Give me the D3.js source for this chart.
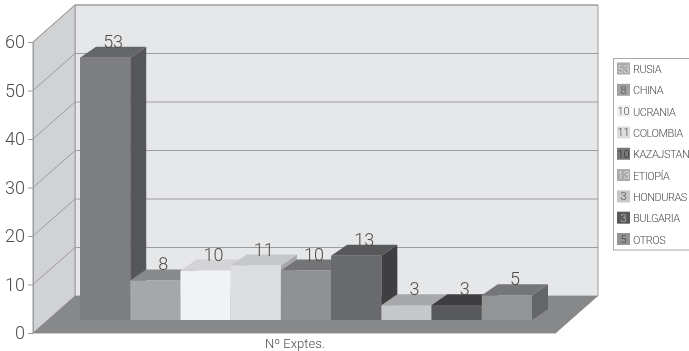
<!DOCTYPE html>
<html>
<head>
<meta charset="utf-8">
<script src="https://cdn.jsdelivr.net/npm/d3@7"></script>
<style>
html,body{margin:0;padding:0;background:#fff;overflow:hidden}
svg{display:block}
text{font-family:Roboto,"Liberation Sans",Arial,sans-serif;font-weight:300;fill:#4d4e50;filter:grayscale(1)}
</style>
</head>
<body>
<svg id="chart" width="689" height="351"></svg>
<script>
const categories = ["RUSIA","CHINA","UCRANIA","COLOMBIA","KAZAJSTAN","ETIOPÍA","HONDURAS","BULGARIA","OTROS"];
const values = [53,8,10,11,10,13,3,3,5];
const frontColors = ["#7d7e80","#a6a7a9","#f1f2f4","#dcdddf","#8f9092","#696a6c","#c6c7c9","#58595b","#939496"];
const topColors = ["#646567","#88898b","#d3d4d6","#c6c7c9","#737476","#58595b","#a7a8aa","#3d3d3f","#757678"];
const sideColors = ["#565759","#707173","#b5b6b8","#a6a7a9","#606163","#3f3f41","#8f9092","#2f2f31","#646567"];
const swatchColors = ["#a9aaac","#a0a1a3","#f1f2f4","#dcdddf","#77787a","#a9aaac","#c6c7c9","#58595b","#939496"];
const swatchInk = ["#dcdddf","#4d4e50","#4d4e50","#4d4e50","#2f2f31","#e6e7e9","#4d4e50","#c6c7c9","#3f3f41"];
const yTicks = [0,10,20,30,40,50,60];
const axisTitle = "Nº Exptes.";

const svg = d3.select("#chart");

// Box projection: front edge of the floor, and the offset to the back wall
const frontX = 33, backX = 75, rightBack = 598;
const depthX = backX - frontX, depthY = -37;
const y = d3.scaleLinear().domain([0,60]).range([333,42]);
const backY = v => y(v) + depthY;

// Bars stand part-way into the floor and use their own vertical scale
const band = d3.scaleBand().domain(categories).range([80,532]);
const barY = d3.scaleLinear().domain([0,60]).range([320,23]);
const barDX = 16, barDY = -11;

const poly = pts => pts.map(p => p.join(",")).join(" ");
const wallStroke = "#9b9c9e";

// Back wall, side wall, floor
svg.append("polygon")
  .attr("points", poly([[backX,backY(60)],[rightBack,backY(60)],[rightBack,backY(0)],[backX,backY(0)]]))
  .attr("fill","#e6e7e9").attr("stroke",wallStroke).attr("stroke-width",1);
svg.append("polygon")
  .attr("points", poly([[frontX,y(60)],[backX,backY(60)],[backX,backY(0)],[frontX,y(0)]]))
  .attr("fill","#d1d2d4").attr("stroke",wallStroke).attr("stroke-width",1);

// Gridlines run along the side wall and across the back wall
const grid = svg.append("g").attr("fill","none").attr("stroke",wallStroke).attr("stroke-width",1);
yTicks.filter(t => t > 0).forEach(t => {
  grid.append("polyline").attr("points", poly([[frontX,y(t)],[backX,backY(t)],[rightBack,backY(t)]]));
});

svg.append("polygon")
  .attr("points", poly([[frontX,y(0)],[backX,backY(0)],[rightBack,backY(0)],[rightBack-depthX,y(0)]]))
  .attr("fill","#87888a");
svg.append("line").attr("x1",frontX).attr("x2",rightBack-depthX).attr("y1",y(0)+.5).attr("y2",y(0)+.5)
  .attr("stroke","#c9cacc");

// Value axis
const axis = d3.axisLeft(y).tickValues(yTicks).tickSize(5).tickPadding(3).tickFormat(d3.format("d"));
const axisG = svg.append("g").attr("transform",`translate(${frontX},0)`).call(axis);
axisG.select(".domain").attr("stroke",wallStroke);
axisG.selectAll(".tick line").attr("stroke",wallStroke);
axisG.selectAll(".tick text").attr("font-size",18)
  .style("font-family",'Roboto,"Liberation Sans",Arial,sans-serif');

// Bars, painted left to right so each one overlaps its neighbour's side face
const bars = svg.append("g").selectAll("g").data(categories).join("g");
bars.append("polygon").attr("fill",(d,i)=>sideColors[i])
  .attr("points",(d,i)=>{
    const r = band(d)+band.bandwidth(), t = barY(values[i]), b = barY(0);
    return poly([[r,t],[r+barDX,t+barDY],[r+barDX,b+barDY],[r,b]]);
  });
bars.append("polygon").attr("fill",(d,i)=>topColors[i])
  .attr("points",(d,i)=>{
    const l = band(d), r = l+band.bandwidth(), t = barY(values[i]);
    return poly([[l,t],[r,t],[r+barDX,t+barDY],[l+barDX,t+barDY]]);
  });
bars.append("rect").attr("fill",(d,i)=>frontColors[i])
  .attr("x",d=>band(d)).attr("width",band.bandwidth())
  .attr("y",(d,i)=>barY(values[i])).attr("height",(d,i)=>barY(0)-barY(values[i]));

// Value labels sit on the back edge of each bar top
svg.append("g").selectAll("text").data(categories).join("text")
  .attr("x",d=>band(d)+band.bandwidth()/2+barDX/2)
  .attr("y",(d,i)=>barY(values[i])+barDY+1)
  .attr("text-anchor","middle").attr("font-size",18)
  .text((d,i)=>values[i]);

svg.append("text").attr("x",295).attr("y",347.5).attr("text-anchor","middle")
  .attr("font-size",13).text(axisTitle);

// Legend
const legendRows = d3.scalePoint().domain(categories).range([68.5,239]);
const legend = svg.append("g");
legend.append("rect").attr("x",613.5).attr("y",58.5).attr("width",90).attr("height",191.5)
  .attr("fill","#fff").attr("stroke","#a7a8aa");
const rows = legend.selectAll("g").data(categories).join("g")
  .attr("transform",d=>`translate(0,${legendRows(d)})`);
rows.append("rect").attr("x",617).attr("y",-6).attr("width",13).attr("height",12)
  .attr("fill",(d,i)=>swatchColors[i]);
rows.append("text").attr("x",623.5).attr("y",4).attr("text-anchor","middle").attr("font-size",11)
  .style("fill",(d,i)=>swatchInk[i]).text((d,i)=>values[i]);
rows.append("text").attr("x",633).attr("y",4.5).attr("font-size",11)
  .attr("letter-spacing",-0.5).text(d=>d);
</script>
</body>
</html>
